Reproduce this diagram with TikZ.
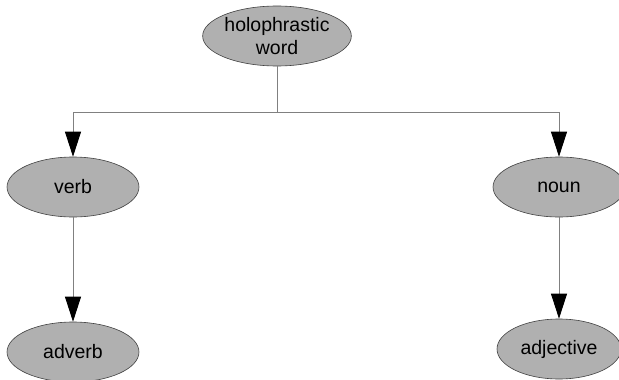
\documentclass[tikz,border=0pt]{standalone}
\usepackage{fontspec}
\setmainfont{Liberation Sans}
\usetikzlibrary{shapes.geometric,arrows.meta}
\tikzset{
  wordnode/.style={ellipse, draw=black!75, line width=0.6pt, fill=black!31,
    minimum width=132pt, minimum height=60pt, inner sep=0pt, align=center,
    font=\fontsize{19.5}{23}\selectfont},
  link/.style={draw=black!50, line width=0.8pt},
  arrowlink/.style={link, -{Triangle[length=25pt,width=16pt,color=black]}}
}
\begin{document}
\begin{tikzpicture}[x=1pt,y=-1pt]
  \useasboundingbox (0,0) rectangle (619,380);
  \fill[white] (0,0) rectangle (619,380);
  \node[wordnode] (holo) at (277,36) {holophrastic\\word};
  \node[wordnode] (verb) at (73,187) {verb};
  \node[wordnode] (noun) at (559,187) {noun};
  \node[wordnode] (adverb) at (73,352) {adverb};
  \node[wordnode, minimum width=124pt] (adj) at (559,349) {adjective};
  \coordinate (split) at (277,112);
  \draw[link] (holo.south) -- (split);
  \draw[arrowlink] (split) -| (verb.north);
  \draw[arrowlink] (split) -| (noun.north);
  \draw[arrowlink] (verb.south) -- (adverb.north);
  \draw[arrowlink] (noun.south) -- (adj.north);
\end{tikzpicture}
\end{document}
